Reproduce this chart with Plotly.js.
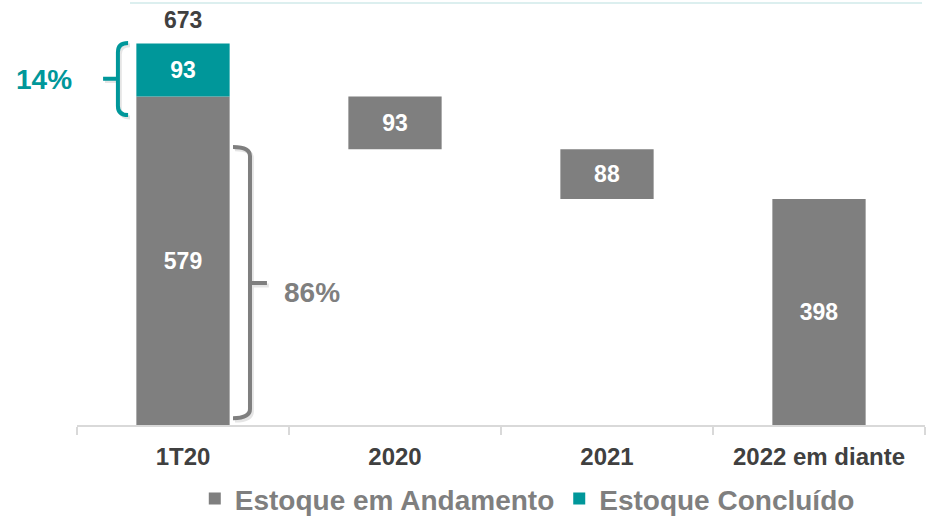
<!DOCTYPE html>
<html>
<head>
<meta charset="utf-8">
<script src="https://cdn.plot.ly/plotly-3.0.1.min.js"></script>
<style>html,body{margin:0;padding:0;background:#fff}#chart{width:928px;height:517px}</style>
</head>
<body>
<div id="chart"></div>
<script>
// ---- data ----
var categories = ['1T20', '2020', '2021', '2022 em diante'];
var andamento = [579, 93, 88, 398];          // Estoque em Andamento
var concluido = [93, null, null, null];      // Estoque Concluído
var totalLabel = 673;                         // label on top of 1T20
var shareConcluido = '14%';
var shareAndamento = '86%';
var seriesNames = ['Estoque em Andamento', 'Estoque Concluído'];

// waterfall bases: first and last bars start at zero, middle bars float down
var bases = [];
var level = andamento[0];
for (var i = 0; i < andamento.length; i++) {
  if (i === 0 || i === andamento.length - 1) { bases.push(0); }
  else { level = level - andamento[i]; bases.push(level); }
}
var concluidoBase = [andamento[0], null, null, null];

var GRAY = '#7f7f7f', TEAL = '#00979a';
var FONT = 'Liberation Sans, Arial, sans-serif';

var traces = [
  {
    type: 'bar', name: seriesNames[0], x: categories, y: andamento, base: bases,
    width: 0.44, marker: {color: GRAY},
    text: andamento.map(String), textposition: 'inside', insidetextanchor: 'middle',
    textfont: {color: '#ffffff', size: 23, family: FONT, weight: 'bold'},
    constraintext: 'none', hoverinfo: 'none'
  },
  {
    type: 'bar', name: seriesNames[1], x: categories, y: concluido, base: concluidoBase,
    width: 0.44, marker: {color: TEAL},
    text: concluido.map(function (v) { return v == null ? '' : String(v); }),
    textposition: 'inside', insidetextanchor: 'middle',
    textfont: {color: '#ffffff', size: 23, family: FONT, weight: 'bold'},
    constraintext: 'none', hoverinfo: 'none'
  }
];

function bracketShape(path, color) {
  return {type: 'path', xref: 'x', yref: 'y', path: path,
    line: {color: color, width: 4}, layer: 'above'};
}
var tealBracket = 'M -0.259 673 Q -0.307 673 -0.307 657 L -0.307 562 Q -0.307 546 -0.259 546 M -0.307 610 L -0.377 610';
var grayBracket = 'M 0.236 490 Q 0.316 490 0.316 474 L 0.316 28 Q 0.316 12 0.236 12 M 0.316 250 L 0.396 250';
var tealShadow = 'M -0.250 669 Q -0.298 669 -0.298 653 L -0.298 558 Q -0.298 542 -0.250 542 M -0.298 606 L -0.368 606';
var grayShadow = 'M 0.245 486 Q 0.325 486 0.325 470 L 0.325 24 Q 0.325 8 0.245 8 M 0.325 246 L 0.405 246';

var layout = {
  width: 928, height: 517,
  margin: {l: 77, r: 3, t: 5, b: 92, pad: 0, autoexpand: false},
  paper_bgcolor: '#ffffff', plot_bgcolor: '#ffffff',
  barmode: 'overlay',
  showlegend: true,
  font: {family: FONT},
  xaxis: {
    type: 'category', range: [-0.5, 3.5], fixedrange: true, automargin: false,
    showline: true, linecolor: '#d9d9d9', linewidth: 1.5,
    ticks: 'outside', tickson: 'boundaries', ticklen: 8, tickcolor: '#d9d9d9', tickwidth: 1.5,
    ticklabelstandoff: 10,
    tickfont: {size: 24, color: '#404040', family: FONT, weight: 'bold'},
    showgrid: false, zeroline: false
  },
  yaxis: {
    range: [0, 740], visible: false, showgrid: false, zeroline: false, fixedrange: true
  },
  legend: {
    orientation: 'h', x: 0.531, xanchor: 'center', y: -0.176, yanchor: 'middle',
    font: {size: 28, color: '#7f7f7f', family: FONT, weight: 'bold'},
    traceorder: 'normal', itemwidth: 30
  },
  shapes: [
    {type: 'line', xref: 'paper', yref: 'paper', x0: 0.0625, x1: 0.9965, y0: 1.005, y1: 1.005,
     line: {color: '#dcefef', width: 2}},
    bracketShape(tealShadow, 'rgba(0,0,0,0.10)'),
    bracketShape(grayShadow, 'rgba(0,0,0,0.10)'),
    bracketShape(tealBracket, TEAL),
    bracketShape(grayBracket, GRAY)
  ],
  annotations: [
    {x: 0, y: totalLabel, xref: 'x', yref: 'y', text: String(totalLabel), showarrow: false,
     yanchor: 'bottom', yshift: 8,
     font: {size: 23, color: '#404040', family: FONT, weight: 'bold'}},
    {x: -0.0743, y: 608, xref: 'paper', yref: 'y', xanchor: 'left', text: shareConcluido, showarrow: false,
     font: {size: 28, color: TEAL, family: FONT, weight: 'bold'}},
    {x: 0.608, y: 234, xref: 'x', yref: 'y', text: shareAndamento, showarrow: false,
     font: {size: 28, color: GRAY, family: FONT, weight: 'bold'}}
  ]
};

Plotly.newPlot('chart', traces, layout, {displayModeBar: false, staticPlot: true});
</script>
</body>
</html>
